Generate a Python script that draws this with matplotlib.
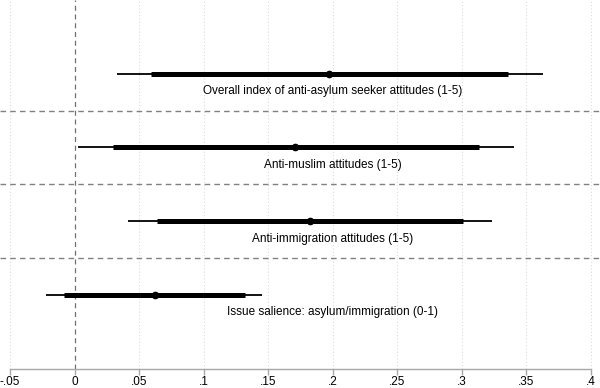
import matplotlib
matplotlib.use("Agg")
import matplotlib.pyplot as plt
import numpy as np

labels = [
    "Overall index of anti-asylum seeker attitudes (1-5)",
    "Anti-muslim attitudes (1-5)",
    "Anti-immigration attitudes (1-5)",
    "Issue salience: asylum/immigration (0-1)",
]
estimates = [0.197, 0.171, 0.1825, 0.062]
ci95_lo = [0.0325, 0.003, 0.0415, -0.022]
ci95_hi = [0.3625, 0.340, 0.3235, 0.1455]
ci90_lo = [0.0594, 0.0296, 0.0637, -0.008]
ci90_hi = [0.336, 0.313, 0.3007, 0.1318]
label_x = [0.2, 0.2, 0.2, 0.2]
xticks = [-0.05, 0, 0.05, 0.1, 0.15, 0.2, 0.25, 0.3, 0.35, 0.4]
xticklabels = ["-.05", "0", ".05", ".1", ".15", ".2", ".25", ".3", ".35", ".4"]

plt.rcParams['font.family'] = ['Liberation Sans', 'DejaVu Sans']

W, H = 600, 388
fig = plt.figure(figsize=(W / 100, H / 100), dpi=100)
ax_bottom_px = 368.7
ax = fig.add_axes([0, 1 - ax_bottom_px / H, 1, ax_bottom_px / H])

pxu = (591 - 10) / 0.45
ax.set_xlim(-0.05 - 10 / pxu, 0.4 + 9 / pxu)
ax.set_ylim(5.0, 0.0)

pos = np.arange(1, len(labels) + 1)

# grid
for t in xticks:
    if t == 0:
        ax.axvline(0, color="#707070", lw=0.9, ls=(0, (4, 3)), zorder=1)
    else:
        ax.axvline(t, color="#dcdcdc", lw=0.8, ls=(0, (1, 2)), zorder=0)
for s in pos[:-1] + 0.5:
    ax.axhline(s, color="#808080", lw=1.0, ls=(0, (4, 3)), zorder=1)

for i, p in enumerate(pos):
    ax.plot([ci95_lo[i], ci95_hi[i]], [p, p], color="black", lw=1.3,
            solid_capstyle="butt", zorder=3)
    ax.plot([ci90_lo[i], ci90_hi[i]], [p, p], color="black", lw=3.6,
            solid_capstyle="butt", zorder=4)
    ax.plot(estimates[i], p, "o", color="black", ms=4.5, zorder=5)
    ax.text(label_x[i], p + 0.235, labels[i], ha="center", va="center",
            fontsize=8.5, color="black", zorder=6)

for sp in ["top", "right", "left"]:
    ax.spines[sp].set_visible(False)
ax.spines["bottom"].set_color("#a8a8a8")
ax.spines["bottom"].set_linewidth(1.0)
ax.spines["bottom"].set_bounds(-0.05, 0.4)
ax.set_yticks([])
ax.set_xticks(xticks)
ax.set_xticklabels(xticklabels, fontsize=8.5)
ax.tick_params(axis="x", direction="out", length=4, width=1.0,
               color="#a8a8a8", pad=1.5, labelcolor="black")
ax.patch.set_alpha(0)

fig.savefig("out.png", dpi=100)
